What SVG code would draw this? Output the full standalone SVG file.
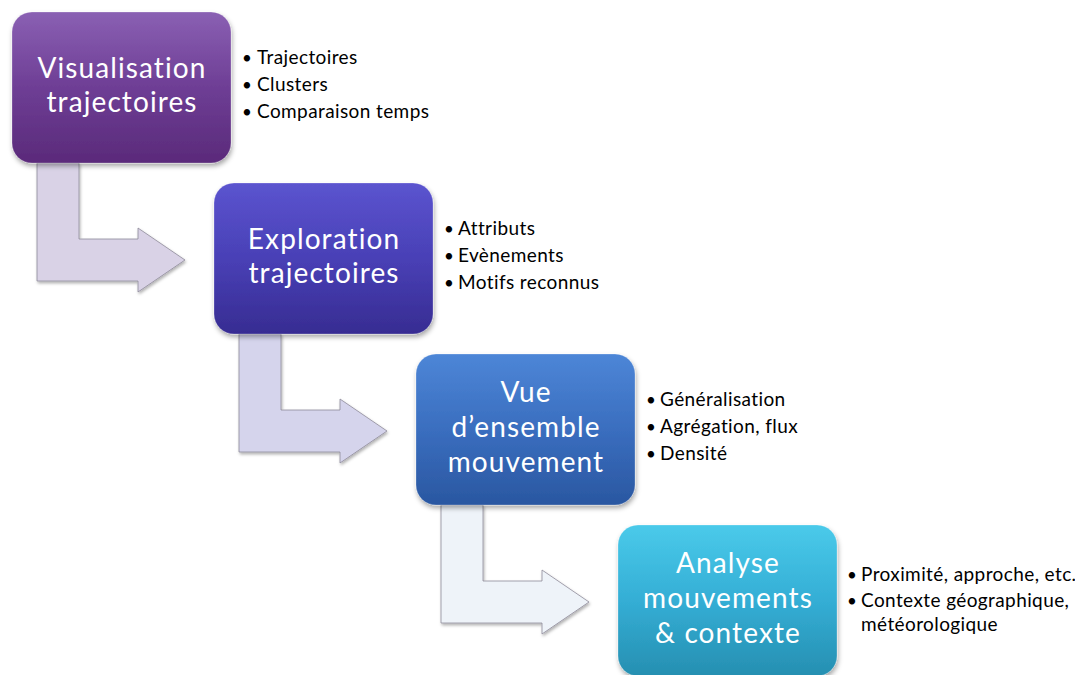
<svg xmlns="http://www.w3.org/2000/svg" width="1075" height="675" viewBox="0 0 1075 675">
<defs>
  <linearGradient id="g1" x1="0" y1="0" x2="0" y2="1">
    <stop offset="0" stop-color="#8a60b3"/>
    <stop offset="0.5" stop-color="#6e3e95"/>
    <stop offset="1" stop-color="#5a2a7a"/>
  </linearGradient>
  <linearGradient id="g2" x1="0" y1="0" x2="0" y2="1">
    <stop offset="0" stop-color="#5b54cf"/>
    <stop offset="0.5" stop-color="#4940b6"/>
    <stop offset="1" stop-color="#372c92"/>
  </linearGradient>
  <linearGradient id="g3" x1="0" y1="0" x2="0" y2="1">
    <stop offset="0" stop-color="#4d86d7"/>
    <stop offset="0.5" stop-color="#3a6ebf"/>
    <stop offset="1" stop-color="#2a57a1"/>
  </linearGradient>
  <linearGradient id="g4" x1="0" y1="0" x2="0" y2="1">
    <stop offset="0" stop-color="#4acaea"/>
    <stop offset="0.5" stop-color="#34aed5"/>
    <stop offset="1" stop-color="#268fb1"/>
  </linearGradient>
  <filter id="sh" x="-10%" y="-10%" width="125%" height="130%">
    <feDropShadow dx="1" dy="3" stdDeviation="2.5" flood-color="#000" flood-opacity="0.35"/>
  </filter>
  <filter id="ash" x="-10%" y="-10%" width="125%" height="125%">
    <feDropShadow dx="1" dy="2" stdDeviation="1.5" flood-color="#000" flood-opacity="0.3"/>
  </filter>
  <path id="bent" d="M37,163 L79,163 L79,239 L138,239 L138,228 L185,260 L138,292 L138,281 L37,281 Z"/>
</defs>
<style>
  .box { stroke: #ffffff; stroke-opacity: 0.25; stroke-width: 1; filter: url(#sh); }
  .title { font-family: Lato, "Open Sans", sans-serif; font-size: 28px; letter-spacing: 1.1px; fill: #ffffff; text-anchor: middle; }
  .bul { font-family: Lato, "Open Sans", sans-serif; font-size: 19px; letter-spacing: 0.4px; fill: #000000; }
  .dot { font-size: 17px; }
  .arr { stroke: #8e8a99; stroke-width: 0.8; filter: url(#ash); }
</style>
<rect width="1075" height="675" fill="#ffffff"/>
<g id="connectors">
  <use href="#bent" class="arr" fill="#d9d2e6"/>
  <use href="#bent" class="arr" fill="#d5d4ec" transform="translate(202,171)"/>
  <use href="#bent" class="arr" fill="#eef3f9" transform="translate(404,342)"/>
</g>
<g id="node1">
  <rect class="box" x="12" y="12" width="219" height="151" rx="20" fill="url(#g1)"/>
  <text class="title"><tspan x="122" y="78">Visualisation</tspan><tspan x="122" y="112">trajectoires</tspan></text>
  <text class="bul"><tspan class="dot" x="242" y="64">•</tspan><tspan x="257" y="64">Trajectoires</tspan></text>
  <text class="bul"><tspan class="dot" x="242" y="91">•</tspan><tspan x="257" y="91">Clusters</tspan></text>
  <text class="bul"><tspan class="dot" x="242" y="118">•</tspan><tspan x="257" y="118">Comparaison temps</tspan></text>
</g>
<g id="node2">
  <rect class="box" x="214" y="183" width="219" height="151" rx="20" fill="url(#g2)"/>
  <text class="title"><tspan x="324" y="249">Exploration</tspan><tspan x="324" y="283">trajectoires</tspan></text>
  <text class="bul"><tspan class="dot" x="444" y="235">•</tspan><tspan x="458" y="235">Attributs</tspan></text>
  <text class="bul"><tspan class="dot" x="444" y="262">•</tspan><tspan x="458" y="262">Evènements</tspan></text>
  <text class="bul"><tspan class="dot" x="444" y="289">•</tspan><tspan x="458" y="289">Motifs reconnus</tspan></text>
</g>
<g id="node3">
  <rect class="box" x="416" y="354" width="219" height="151" rx="20" fill="url(#g3)"/>
  <text class="title"><tspan x="526" y="402">Vue</tspan><tspan x="526" y="437">d’ensemble</tspan><tspan x="526" y="472">mouvement</tspan></text>
  <text class="bul"><tspan class="dot" x="646" y="406">•</tspan><tspan x="660" y="406">Généralisation</tspan></text>
  <text class="bul"><tspan class="dot" x="646" y="433">•</tspan><tspan x="660" y="433">Agrégation, flux</tspan></text>
  <text class="bul"><tspan class="dot" x="646" y="460">•</tspan><tspan x="660" y="460">Densité</tspan></text>
</g>
<g id="node4">
  <rect class="box" x="618" y="525" width="219" height="151" rx="20" fill="url(#g4)"/>
  <text class="title"><tspan x="728" y="573">Analyse</tspan><tspan x="728" y="608">mouvements</tspan><tspan x="728" y="643">&amp; contexte</tspan></text>
  <text class="bul"><tspan class="dot" x="847" y="581">•</tspan><tspan x="861" y="581">Proximité, approche, etc.</tspan></text>
  <text class="bul"><tspan class="dot" x="847" y="607">•</tspan><tspan x="861" y="607">Contexte géographique,</tspan><tspan x="861" y="631">météorologique</tspan></text>
</g>
</svg>
